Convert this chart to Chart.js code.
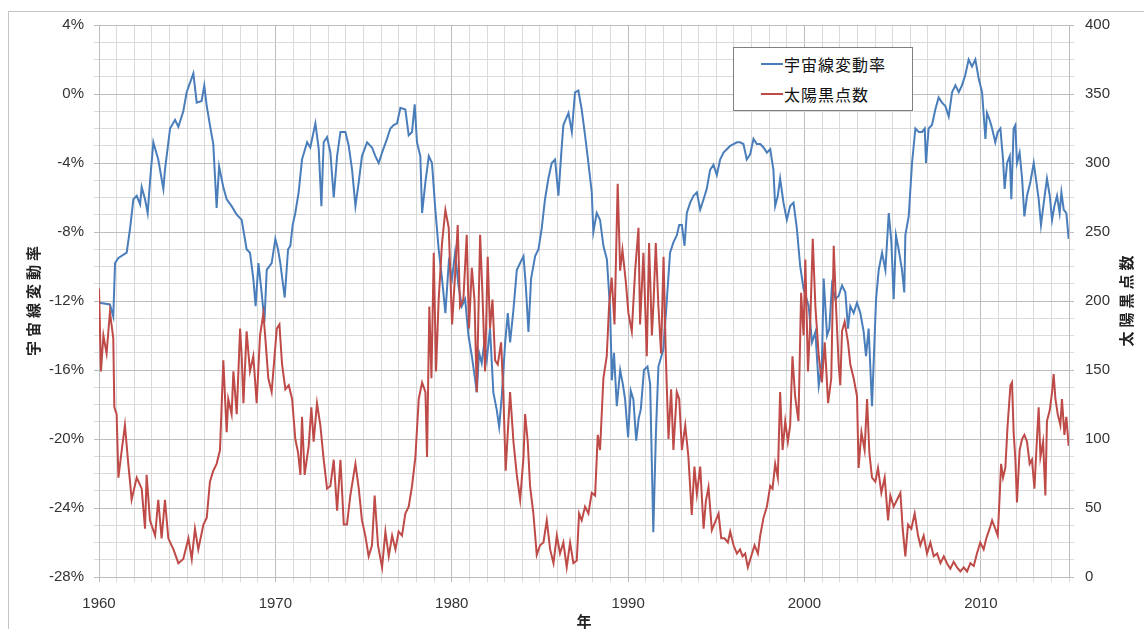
<!DOCTYPE html>
<html>
<head>
<meta charset="utf-8">
<script src="https://cdn.jsdelivr.net/npm/chart.js@4"></script>
<style>
  body { margin: 0; background: #fff; overflow: hidden; }
  #frame { position: absolute; left: 8px; top: 11px; width: 1150px; height: 640px; border: 1px solid #c4c4c4; }
  #chart { position: absolute; left: 0; top: 0; }
  #legend { position: absolute; left: 733px; top: 47px; width: 180px; height: 64px; box-sizing: border-box;
            border: 1px solid #7f7f7f; background: #fff; font: 16px "Noto Sans CJK JP"; color: #111; }
  #legend .row { position: absolute; left: 0; height: 20px; line-height: 20px; white-space: nowrap; }
  #legend .swatch { position: absolute; left: 27px; top: 9px; width: 22px; height: 2px; }
  #legend .text { position: absolute; left: 50px; top: 0; letter-spacing: 1px; }
</style>
</head>
<body>
<div id="frame"></div>
<canvas id="chart" width="1144" height="629"></canvas>
<div id="legend"></div>
<script>
// 宇宙線変動率 (%)
var cosmicYears = [
  1960.00,1960.62,1960.81,1960.91,1961.10,1961.57,1961.76,1961.95,1962.14,1962.33,
  1962.42,1962.61,1962.76,1962.89,1963.08,1963.36,1963.65,1963.74,1964.03,1964.31,
  1964.50,1964.78,1964.97,1965.35,1965.54,1965.82,1965.97,1966.11,1966.29,1966.48,
  1966.67,1966.81,1967.05,1967.24,1967.52,1967.81,1968.09,1968.37,1968.56,1968.75,
  1968.88,1969.04,1969.22,1969.38,1969.51,1969.79,
  1970.00,1970.15,1970.28,1970.53,1970.72,1970.85,1970.98,1971.13,1971.32,1971.51,
  1971.80,1971.98,1972.27,1972.46,1972.61,1972.74,1972.93,1973.12,1973.31,1973.50,
  1973.69,1973.97,1974.16,1974.35,1974.54,1974.73,1974.91,1975.20,1975.48,1975.67,
  1975.86,1976.05,1976.33,1976.52,1976.71,1976.90,1977.09,1977.37,1977.56,1977.75,
  1977.90,1978.03,1978.22,1978.32,1978.51,1978.70,1978.88,1979.07,1979.26,1979.45,
  1979.64,1979.83,
  1980.02,1980.19,1980.38,1980.57,1980.76,1980.95,1981.14,1981.32,1981.42,1981.55,
  1981.70,1981.85,1981.99,1982.17,1982.36,1982.55,1982.69,1982.84,1983.03,1983.18,
  1983.31,1983.50,1983.69,1983.88,1984.07,1984.20,1984.35,1984.50,1984.73,1984.92,
  1985.10,1985.29,1985.48,1985.67,1985.86,1986.05,1986.20,1986.33,1986.62,1986.81,
  1986.99,1987.18,1987.37,1987.56,1987.75,1987.94,1988.03,1988.22,1988.41,1988.60,
  1988.80,1988.98,1989.08,1989.20,1989.36,1989.55,1989.70,1989.83,
  1990.00,1990.15,1990.30,1990.46,1990.60,1990.72,1990.90,1991.10,1991.25,1991.43,
  1991.58,1991.72,1992.00,1992.20,1992.38,1992.57,1992.76,1992.90,1993.05,1993.20,
  1993.33,1993.52,1993.71,1993.90,1994.09,1994.28,1994.46,1994.65,1994.84,1995.03,
  1995.22,1995.41,1995.60,1995.79,1995.98,1996.17,1996.35,1996.54,1996.73,1996.92,
  1997.11,1997.30,1997.49,1997.68,1997.87,1998.06,1998.24,1998.34,1998.49,1998.62,
  1998.81,1999.00,1999.19,1999.38,1999.57,1999.76,1999.95,
  2000.24,2000.43,2000.62,2000.81,2000.99,2001.09,2001.28,2001.41,2001.56,2001.75,
  2001.94,2002.13,2002.32,2002.47,2002.60,2002.79,2002.98,2003.17,2003.36,2003.49,
  2003.64,2003.83,2003.93,2004.06,2004.21,2004.40,2004.59,2004.78,2004.93,2005.06,
  2005.19,2005.34,2005.53,2005.66,2005.72,2005.91,2006.10,2006.29,2006.48,2006.67,
  2006.82,2006.89,2007.04,2007.23,2007.42,2007.61,2007.80,2007.99,2008.18,2008.37,
  2008.56,2008.75,2008.93,2009.12,2009.31,2009.50,2009.69,2009.88,
  2010.07,2010.26,2010.35,2010.50,2010.64,2010.82,2010.96,2011.11,2011.26,2011.35,
  2011.49,2011.64,2011.73,2011.86,2011.96,2012.05,2012.20,2012.34,2012.47,2012.62,
  2012.81,2013.00,2013.15,2013.28,2013.41,2013.57,2013.75,2013.91,2014.04,2014.17,
  2014.32,2014.47,2014.57,2014.70,2014.85,2014.98
];
var cosmicRate = [
  -12.1,-12.2,-12.9,-9.8,-9.5,-9.2,-7.8,-6.1,-5.9,-6.4,
  -5.4,-6.1,-6.9,-5.1,-2.8,-3.8,-5.5,-4.4,-2.0,-1.5,
  -1.9,-1.0,0.1,1.2,-0.5,-0.4,0.5,-0.7,-1.8,-2.9,
  -6.6,-4.2,-5.4,-6.1,-6.5,-7.0,-7.3,-9.0,-9.2,-10.7,
  -12.3,-9.8,-11.5,-13.2,-10.2,-9.8,
  -8.4,-9.0,-9.8,-11.8,-9.0,-8.8,-7.6,-6.9,-5.7,-3.8,
  -2.8,-3.1,-1.7,-3.2,-6.5,-2.8,-2.5,-3.4,-6.0,-3.6,
  -2.2,-2.2,-3.0,-4.4,-6.5,-5.1,-3.6,-2.8,-3.1,-3.6,
  -4.0,-3.4,-2.6,-2.0,-1.8,-1.7,-0.8,-0.9,-2.4,-2.2,
  -0.6,-2.8,-3.6,-6.9,-5.1,-3.6,-4.0,-6.7,-9.0,-10.7,
  -12.7,-9.8,
  -10.7,-9.2,-11.1,-12.3,-11.9,-14.0,-15.2,-16.5,-17.3,-15.0,
  -15.6,-14.4,-15.4,-13.6,-17.3,-18.3,-19.3,-17.5,-14.4,-12.7,
  -14.4,-12.5,-10.2,-9.8,-9.4,-11.1,-13.8,-10.7,-9.4,-9.0,
  -7.8,-6.1,-4.9,-4.0,-3.8,-5.9,-3.6,-1.8,-1.1,-2.2,
  0.1,0.2,-0.9,-2.4,-4.0,-5.7,-8.0,-6.9,-7.3,-8.8,
  -9.6,-12.5,-16.6,-15.0,-18.1,-16.0,-16.8,-17.7,
  -19.9,-17.2,-17.7,-20.1,-18.8,-18.3,-16.0,-15.8,-16.8,-25.4,
  -19.6,-15.8,-14.8,-11.9,-9.2,-8.6,-8.2,-7.6,-7.6,-8.8,
  -6.9,-6.3,-5.9,-5.7,-6.7,-6.1,-5.5,-4.4,-4.1,-4.7,
  -3.8,-3.4,-3.2,-3.0,-2.9,-2.8,-2.8,-2.9,-3.8,-3.5,
  -2.6,-2.9,-2.9,-3.1,-3.4,-3.2,-4.4,-6.5,-5.9,-4.9,
  -6.3,-7.3,-6.5,-6.3,-7.8,-10.0,-11.3,
  -12.3,-14.4,-13.8,-16.9,-15.6,-10.7,-14.0,-13.6,-11.1,-11.9,
  -11.7,-11.1,-11.5,-13.6,-12.3,-12.7,-12.1,-12.7,-13.8,-15.2,
  -13.6,-18.1,-15.4,-11.9,-10.2,-9.2,-10.2,-6.9,-8.6,-11.9,
  -8.2,-9.0,-10.2,-11.5,-8.2,-7.1,-4.0,-2.0,-2.2,-2.2,
  -2.0,-4.0,-2.0,-1.8,-0.9,-0.2,-0.5,-0.7,-1.3,0.1,
  0.5,0.1,0.5,1.1,2.0,1.6,2.0,0.9,
  0.1,-2.6,-1.1,-1.5,-2.0,-2.8,-2.2,-2.0,-3.8,-5.5,
  -4.0,-3.6,-6.1,-2.0,-1.8,-4.0,-3.4,-4.9,-7.1,-5.9,
  -5.1,-4.0,-5.1,-6.1,-7.6,-6.3,-4.9,-5.9,-7.3,-6.5,
  -5.9,-6.9,-5.7,-6.7,-6.9,-8.4
];

// 太陽黒点数
var sunspotYears = [
  1960.00,1960.11,1960.25,1960.43,1960.62,1960.81,1960.87,1961.00,1961.10,1961.29,
  1961.47,1961.66,1961.76,1961.85,1962.14,1962.42,1962.61,1962.70,1962.89,1963.18,
  1963.36,1963.55,1963.74,1963.93,1964.22,1964.50,1964.78,1965.07,1965.26,1965.44,
  1965.63,1965.92,1966.11,1966.29,1966.48,1966.67,1966.86,1967.05,1967.15,1967.24,
  1967.33,1967.52,1967.62,1967.81,1968.00,1968.09,1968.19,1968.37,1968.56,1968.75,
  1968.94,1969.13,1969.32,1969.45,1969.60,1969.79,
  1970.08,1970.23,1970.38,1970.57,1970.76,1970.95,1971.13,1971.29,1971.42,1971.51,
  1971.66,1971.89,1972.04,1972.17,1972.36,1972.55,1972.74,1972.93,1973.12,1973.31,
  1973.50,1973.69,1973.88,1974.06,1974.25,1974.54,1974.73,1974.91,1975.10,1975.29,
  1975.48,1975.63,1975.82,1976.05,1976.24,1976.43,1976.62,1976.81,1976.99,1977.18,
  1977.37,1977.56,1977.75,1977.94,1978.13,1978.32,1978.51,1978.60,1978.73,1978.85,
  1978.98,1979.11,1979.26,1979.45,1979.64,1979.83,
  1980.02,1980.19,1980.34,1980.47,1980.66,1980.85,1980.98,1981.14,1981.29,1981.42,
  1981.61,1981.74,1981.89,1982.04,1982.17,1982.31,1982.46,1982.61,1982.80,1982.93,
  1983.06,1983.18,1983.31,1983.50,1983.69,1983.88,1984.07,1984.16,1984.31,1984.44,
  1984.63,1984.82,1985.01,1985.20,1985.39,1985.58,1985.77,1985.96,1986.14,1986.33,
  1986.52,1986.71,1986.90,1987.09,1987.22,1987.37,1987.56,1987.75,1987.94,1988.13,
  1988.28,1988.41,1988.60,1988.79,1988.92,1989.07,1989.23,1989.41,1989.55,1989.68,
  1989.87,
  1990.02,1990.21,1990.40,1990.59,1990.68,1990.87,1991.06,1991.19,1991.35,1991.44,
  1991.57,1991.72,1991.87,1992.01,1992.14,1992.29,1992.44,1992.57,1992.76,1992.90,
  1993.05,1993.24,1993.42,1993.61,1993.76,1993.90,1994.09,1994.28,1994.41,1994.56,
  1994.75,1994.94,1995.13,1995.28,1995.47,1995.66,1995.79,1995.98,1996.17,1996.35,
  1996.49,1996.64,1996.79,1996.98,1997.17,1997.36,1997.49,1997.68,1997.87,1998.06,
  1998.19,1998.34,1998.49,1998.62,1998.76,1998.91,1999.06,1999.19,1999.32,1999.47,
  1999.66,1999.81,1999.95,
  2000.05,2000.20,2000.33,2000.47,2000.62,2000.81,2000.99,2001.15,2001.34,2001.52,
  2001.66,2001.79,2001.94,2002.03,2002.13,2002.28,2002.47,2002.60,2002.79,2002.98,
  2003.07,2003.23,2003.41,2003.55,2003.68,2003.83,2004.02,2004.17,2004.36,2004.55,
  2004.74,2004.87,2005.06,2005.25,2005.44,2005.57,2005.72,2005.87,2006.06,2006.25,
  2006.44,2006.57,2006.76,2006.95,2007.14,2007.33,2007.52,2007.71,2007.90,2008.08,
  2008.27,2008.46,2008.65,2008.84,2009.03,2009.22,2009.41,2009.60,2009.78,2009.97,
  2010.16,2010.31,2010.50,2010.64,2010.82,2010.96,2011.07,2011.15,2011.26,2011.39,
  2011.52,2011.68,2011.77,2011.86,2011.96,2012.05,2012.20,2012.34,2012.47,2012.62,
  2012.77,2012.90,2013.04,2013.15,2013.28,2013.38,2013.53,2013.66,2013.75,2013.91,
  2014.04,2014.13,2014.23,2014.36,2014.51,2014.60,2014.74,2014.85,2014.98
];
var sunspotCount = [
  209,149,175,162,192,173,123,118,72,92,
  110,82,69,56,72,64,35,74,41,30,
  56,28,56,28,20,10,13,28,13,35,
  20,38,43,69,77,82,92,157,129,105,
  129,118,149,118,180,160,126,178,149,160,
  126,175,191,170,144,134,
  180,183,154,136,139,129,100,90,74,116,
  74,95,123,98,126,110,85,64,66,85,
  48,85,38,38,59,82,64,41,30,15,
  23,59,23,7,33,15,30,20,33,30,
  46,51,66,87,129,141,134,87,196,144,
  235,149,201,242,266,253,
  183,219,255,196,201,248,180,224,201,134,
  248,206,149,232,180,201,157,154,170,131,
  77,105,134,98,74,56,87,118,98,66,
  46,16,23,25,41,20,10,30,17,25,
  7,25,10,12,46,41,51,46,61,59,
  103,92,144,160,196,217,183,285,222,237,
  214,
  191,178,222,253,183,235,160,242,175,198,
  242,196,162,232,160,100,136,92,134,129,
  92,110,87,45,80,60,80,35,55,65,
  34,40,46,28,28,25,33,23,17,20,
  15,17,7,15,23,17,30,43,51,66,
  64,82,72,134,92,113,98,110,160,131,
  113,206,175,
  230,149,185,245,196,160,141,170,126,144,
  240,196,154,139,178,185,170,154,144,131,
  79,105,92,129,90,72,69,79,61,72,
  41,59,51,56,61,35,15,38,35,46,
  30,23,30,17,25,15,17,10,15,10,
  6,11,7,4,7,4,10,8,17,25,
  20,28,35,41,35,30,59,82,72,79,
  110,139,141,105,85,54,92,100,103,98,
  82,85,64,92,123,87,98,59,113,121,
  134,147,129,118,110,129,103,116,95
];

var seriesNames = ["宇宙線変動率", "太陽黒点数"];
var xTitle = "年";

function toPoints(xs, ys) {
  var pts = [];
  for (var i = 0; i < Math.min(xs.length, ys.length); i++) pts.push({ x: xs[i], y: ys[i] });
  return pts;
}

var tickFont = { family: "Liberation Sans", size: 15 };
var tickColor = "#333";
var gridMajor = "#bdbdbd", gridMinor = "#dadada";

// axis titles are drawn here so the right one reads bottom-to-top like the left one
var axisTitles = {
  id: "axisTitles",
  afterDraw: function (chart) {
    var ctx = chart.ctx, area = chart.chartArea;
    var midY = (area.top + area.bottom) / 2;
    ctx.save();
    ctx.fillStyle = "#222";
    ctx.font = 'bold 15px "Noto Sans CJK JP"';
    ctx.textAlign = "center";
    ctx.textBaseline = "middle";
    ctx.letterSpacing = "4px";
    [[33, seriesNames[0]], [1126, seriesNames[1]]].forEach(function (t) {
      ctx.save();
      ctx.translate(t[0], midY);
      ctx.rotate(-Math.PI / 2);
      ctx.fillText(t[1], 2, 0);
      ctx.restore();
    });
    ctx.letterSpacing = "0px";
    ctx.fillText(xTitle, (area.left + area.right) / 2, 621);
    ctx.restore();
  }
};

var ctx = document.getElementById("chart").getContext("2d");
var chart = new Chart(ctx, {
  type: "line",
  data: {
    datasets: [
      {
        label: seriesNames[0],
        data: toPoints(cosmicYears, cosmicRate),
        yAxisID: "y",
        borderColor: "#4a7ebb",
        backgroundColor: "#4a7ebb",
        order: 1,
      },
      {
        label: seriesNames[1],
        data: toPoints(sunspotYears, sunspotCount),
        yAxisID: "y2",
        borderColor: "#be4b48",
        backgroundColor: "#be4b48",
        order: 0,
      },
    ],
  },
  options: {
    responsive: false,
    animation: false,
    layout: { padding: { top: 25, left: 0, right: 0, bottom: 0 } },
    elements: {
      point: { radius: 0 },
      line: { borderWidth: 2, tension: 0 },
    },
    plugins: { legend: { display: false }, tooltip: { enabled: false } },
    scales: {
      x: {
        type: "linear",
        min: 1960,
        max: 2015,
        afterFit: function (s) { s.height = 52; },
        ticks: {
          stepSize: 1,
          autoSkip: false,
          maxRotation: 0,
          padding: 13,
          font: tickFont,
          color: tickColor,
          callback: function (v) { var y = Math.round(v); return y % 10 === 0 ? String(y) : ""; },
        },
        grid: {
          tickLength: 5,
          color: function (c) { return c.tick && Math.round(c.tick.value) % 10 === 0 ? gridMajor : gridMinor; },
        },
        border: { color: "#bdbdbd" },
      },
      y: {
        position: "left",
        min: -28,
        max: 4,
        afterFit: function (s) { s.width = 99; },
        ticks: {
          stepSize: 1,
          autoSkip: false,
          padding: 10,
          font: tickFont,
          color: tickColor,
          callback: function (v) { var r = Math.round(v); return (r + 28) % 4 === 0 ? r + "%" : ""; },
        },
        grid: {
          tickLength: 5,
          color: function (c) { return c.tick && (Math.round(c.tick.value) + 28) % 4 === 0 ? gridMajor : gridMinor; },
        },
        border: { color: "#bdbdbd" },
      },
      y2: {
        position: "right",
        min: 0,
        max: 400,
        afterFit: function (s) { s.width = 75; },
        ticks: {
          stepSize: 12.5,
          autoSkip: false,
          padding: 11,
          font: tickFont,
          color: tickColor,
          callback: function (v) { return v % 50 === 0 ? String(v) : ""; },
        },
        grid: {
          drawOnChartArea: false,
          tickLength: 5,
          color: function (c) { return c.tick && c.tick.value % 50 === 0 ? gridMajor : gridMinor; },
        },
        border: { color: "#bdbdbd" },
      },
    },
  },
  plugins: [axisTitles],
});

// legend box inside the plot, built from the datasets
var legend = document.getElementById("legend");
chart.data.datasets.forEach(function (ds, i) {
  var row = document.createElement("div");
  row.className = "row";
  row.style.top = (6 + i * 30) + "px";
  row.innerHTML = '<span class="swatch" style="background:' + ds.borderColor + '"></span>' +
                  '<span class="text">' + ds.label + "</span>";
  legend.appendChild(row);
});
</script>
</body>
</html>
